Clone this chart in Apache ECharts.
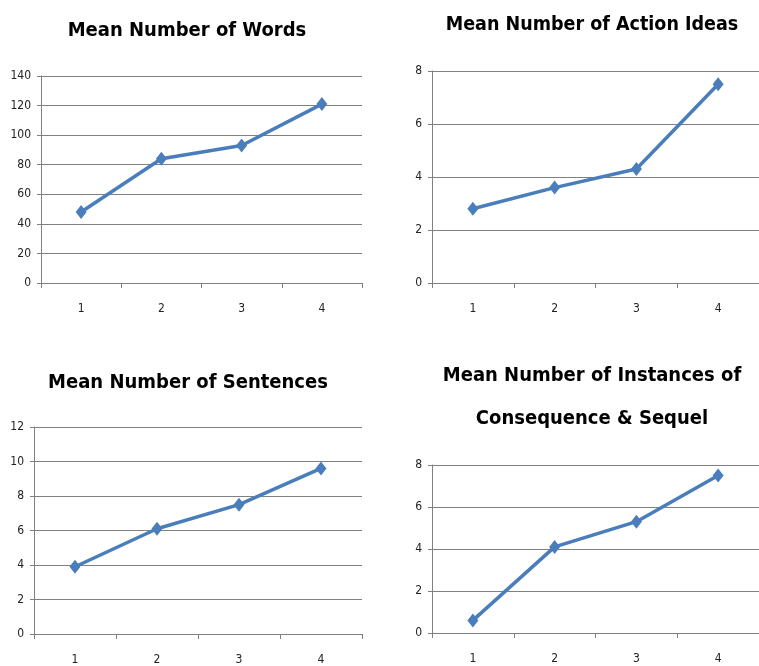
<!DOCTYPE html>
<html>
<head>
<meta charset="utf-8">
<script src="https://cdn.jsdelivr.net/npm/echarts@6/dist/echarts.min.js"></script>
<style>
  html, body { margin: 0; padding: 0; background: #fff; }
  #chartdata { width: 759px; height: 666px; }
</style>
</head>
<body>
<div id="chartdata"></div>
<script>
// data
var categories = ['1', '2', '3', '4']
var words = [48, 84, 93, 121]
var actionIdeas = [2.8, 3.6, 4.3, 7.5]
var sentences = [3.9, 6.1, 7.5, 9.6]
var consequence = [0.6, 4.1, 5.3, 7.5]
var titles = [
  'Mean Number of Words',
  'Mean Number of Action Ideas',
  'Mean Number of Sentences',
  'Mean Number of Instances of\nConsequence & Sequel'
]
var yMax = [140, 8, 12, 8]
var yStep = [20, 2, 2, 2]

var font = 'DejaVu Sans Condensed'
var lineColor = '#4a7ebb'
var gridColor = '#808080'

// panel layout (px)
var grids = [
  { left: 41, top: 76, width: 321, height: 207 },
  { left: 432, top: 71, width: 334, height: 212 },
  { left: 34, top: 427, width: 328, height: 207 },
  { left: 432, top: 465, width: 334, height: 168 }
]
var titlePos = [
  { left: 182, top: 14 },
  { left: 587, top: 8 },
  { left: 183, top: 366 },
  { left: 587, top: 349 }
]
var seriesData = [words, actionIdeas, sentences, consequence]

var chart = echarts.init(document.getElementById('chartdata'))

var option = {
  animation: false,
  backgroundColor: '#fff',
  title: [],
  grid: [],
  xAxis: [],
  yAxis: [],
  series: []
}

for (var i = 0; i < 4; i++) {
  option.title.push({
    text: titles[i],
    left: titlePos[i].left,
    top: titlePos[i].top,
    textAlign: 'center',
    textStyle: {
      fontFamily: font,
      fontWeight: 'bold',
      fontSize: i === 1 ? 19.5 : 20,
      color: '#000',
      lineHeight: i === 3 ? 43 : 24
    }
  })
  option.grid.push(grids[i])
  option.xAxis.push({
    type: 'category',
    gridIndex: i,
    data: categories,
    boundaryGap: true,
    axisLine: { lineStyle: { color: gridColor, width: 1 } },
    axisTick: { show: true, length: 5, lineStyle: { color: gridColor } },
    axisLabel: { fontFamily: font, fontSize: 12, color: '#222', margin: 20 }
  })
  option.yAxis.push({
    type: 'value',
    gridIndex: i,
    min: 0,
    max: yMax[i],
    interval: yStep[i],
    axisLine: { show: true, lineStyle: { color: gridColor, width: 1 } },
    axisTick: { show: true, length: 4, lineStyle: { color: gridColor } },
    splitLine: { show: true, lineStyle: { color: gridColor, width: 1 } },
    axisLabel: { fontFamily: font, fontSize: 12, color: '#222', margin: 10 }
  })
  option.series.push({
    type: 'line',
    xAxisIndex: i,
    yAxisIndex: i,
    data: seriesData[i],
    symbol: 'diamond',
    symbolSize: [11, 14],
    lineStyle: { color: lineColor, width: 3.5 },
    itemStyle: { color: lineColor }
  })
}

chart.setOption(option)
</script>
</body>
</html>
